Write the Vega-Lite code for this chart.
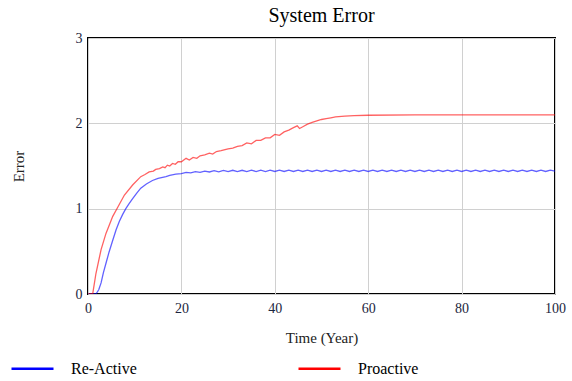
{
  "$schema": "https://vega.github.io/schema/vega-lite/v6.json",
  "width": 467,
  "height": 256,
  "autosize": {"type": "none"},
  "padding": {"left": 88, "top": 38, "right": 17, "bottom": 87},
  "background": "white",
  "config": {
    "font": "Liberation Serif",
    "view": {"stroke": "black", "strokeWidth": 2},
    "axis": {"domain": false, "ticks": false, "gridColor": "#d0d0d0", "gridWidth": 1, "labelFont": "Liberation Serif", "labelFontSize": 14, "labelColor": "#1c2640", "titleFont": "Liberation Serif", "titleFontSize": 15, "titleFontWeight": "normal", "titleColor": "#222222", "labelFlush": false, "labelOverlap": false}
  },
  "title": {"text": "System Error", "font": "Liberation Serif", "fontSize": 20, "fontWeight": "normal", "color": "black", "anchor": "middle", "offset": 5},
  "data": {"values": [
    {"t":0,"v":0,"s":"Re-Active"},{"t":1,"v":0,"s":"Re-Active"},{"t":1.7,"v":0,"s":"Re-Active"},{"t":2.3,"v":0.05,"s":"Re-Active"},{"t":2.8,"v":0.13,"s":"Re-Active"},{"t":3.3,"v":0.25,"s":"Re-Active"},{"t":3.85,"v":0.36,"s":"Re-Active"},{"t":4.5,"v":0.49,"s":"Re-Active"},{"t":5.3,"v":0.63,"s":"Re-Active"},{"t":6,"v":0.75,"s":"Re-Active"},{"t":6.7,"v":0.85,"s":"Re-Active"},{"t":7.4,"v":0.93,"s":"Re-Active"},{"t":8.1,"v":1.0,"s":"Re-Active"},{"t":8.8,"v":1.06,"s":"Re-Active"},{"t":9.6,"v":1.12,"s":"Re-Active"},{"t":10.4,"v":1.18,"s":"Re-Active"},{"t":11.3,"v":1.24,"s":"Re-Active"},{"t":12.5,"v":1.29,"s":"Re-Active"},{"t":13.8,"v":1.33,"s":"Re-Active"},{"t":15,"v":1.355,"s":"Re-Active"},{"t":16.7,"v":1.375,"s":"Re-Active"},{"t":17.5,"v":1.39,"s":"Re-Active"},{"t":18.8,"v":1.405,"s":"Re-Active"},{"t":20,"v":1.41,"s":"Re-Active"},{"t":21,"v":1.425,"s":"Re-Active"},
    {"t":22,"v":1.42,"s":"Re-Active"},{"t":23,"v":1.435,"s":"Re-Active"},{"t":24,"v":1.425,"s":"Re-Active"},{"t":25,"v":1.44,"s":"Re-Active"},{"t":26,"v":1.43,"s":"Re-Active"},{"t":27,"v":1.445,"s":"Re-Active"},{"t":28,"v":1.432,"s":"Re-Active"},{"t":29,"v":1.448,"s":"Re-Active"},{"t":30,"v":1.434,"s":"Re-Active"},{"t":31,"v":1.45,"s":"Re-Active"},{"t":32,"v":1.435,"s":"Re-Active"},{"t":33,"v":1.45,"s":"Re-Active"},{"t":34,"v":1.435,"s":"Re-Active"},{"t":35,"v":1.451,"s":"Re-Active"},{"t":36,"v":1.435,"s":"Re-Active"},{"t":37,"v":1.451,"s":"Re-Active"},{"t":38,"v":1.435,"s":"Re-Active"},{"t":39,"v":1.451,"s":"Re-Active"},{"t":40,"v":1.436,"s":"Re-Active"},{"t":41,"v":1.452,"s":"Re-Active"},{"t":42,"v":1.436,"s":"Re-Active"},{"t":43,"v":1.452,"s":"Re-Active"},{"t":44,"v":1.436,"s":"Re-Active"},{"t":45,"v":1.452,"s":"Re-Active"},{"t":46,"v":1.436,"s":"Re-Active"},{"t":47,"v":1.452,"s":"Re-Active"},{"t":48,"v":1.436,"s":"Re-Active"},{"t":49,"v":1.452,"s":"Re-Active"},{"t":50,"v":1.436,"s":"Re-Active"},{"t":51,"v":1.452,"s":"Re-Active"},{"t":52,"v":1.436,"s":"Re-Active"},{"t":53,"v":1.452,"s":"Re-Active"},{"t":54,"v":1.436,"s":"Re-Active"},{"t":55,"v":1.452,"s":"Re-Active"},{"t":56,"v":1.436,"s":"Re-Active"},{"t":57,"v":1.452,"s":"Re-Active"},{"t":58,"v":1.436,"s":"Re-Active"},{"t":59,"v":1.452,"s":"Re-Active"},{"t":60,"v":1.436,"s":"Re-Active"},{"t":61,"v":1.452,"s":"Re-Active"},{"t":62,"v":1.436,"s":"Re-Active"},{"t":63,"v":1.452,"s":"Re-Active"},{"t":64,"v":1.436,"s":"Re-Active"},{"t":65,"v":1.452,"s":"Re-Active"},{"t":66,"v":1.436,"s":"Re-Active"},{"t":67,"v":1.452,"s":"Re-Active"},{"t":68,"v":1.436,"s":"Re-Active"},{"t":69,"v":1.452,"s":"Re-Active"},{"t":70,"v":1.436,"s":"Re-Active"},{"t":71,"v":1.452,"s":"Re-Active"},{"t":72,"v":1.436,"s":"Re-Active"},{"t":73,"v":1.452,"s":"Re-Active"},{"t":74,"v":1.436,"s":"Re-Active"},{"t":75,"v":1.452,"s":"Re-Active"},{"t":76,"v":1.436,"s":"Re-Active"},{"t":77,"v":1.452,"s":"Re-Active"},{"t":78,"v":1.436,"s":"Re-Active"},{"t":79,"v":1.452,"s":"Re-Active"},{"t":80,"v":1.436,"s":"Re-Active"},{"t":81,"v":1.452,"s":"Re-Active"},{"t":82,"v":1.436,"s":"Re-Active"},{"t":83,"v":1.452,"s":"Re-Active"},{"t":84,"v":1.436,"s":"Re-Active"},{"t":85,"v":1.452,"s":"Re-Active"},{"t":86,"v":1.436,"s":"Re-Active"},{"t":87,"v":1.452,"s":"Re-Active"},{"t":88,"v":1.436,"s":"Re-Active"},{"t":89,"v":1.452,"s":"Re-Active"},{"t":90,"v":1.436,"s":"Re-Active"},{"t":91,"v":1.452,"s":"Re-Active"},{"t":92,"v":1.436,"s":"Re-Active"},{"t":93,"v":1.452,"s":"Re-Active"},{"t":94,"v":1.436,"s":"Re-Active"},{"t":95,"v":1.452,"s":"Re-Active"},{"t":96,"v":1.436,"s":"Re-Active"},{"t":97,"v":1.452,"s":"Re-Active"},{"t":98,"v":1.436,"s":"Re-Active"},{"t":99,"v":1.452,"s":"Re-Active"},{"t":100,"v":1.44,"s":"Re-Active"},
    {"t":0,"v":0,"s":"Proactive"},{"t":1,"v":0,"s":"Proactive"},{"t":1.7,"v":0.24,"s":"Proactive"},{"t":2.8,"v":0.52,"s":"Proactive"},{"t":3.85,"v":0.71,"s":"Proactive"},{"t":5.3,"v":0.91,"s":"Proactive"},{"t":6.4,"v":1.02,"s":"Proactive"},{"t":7.8,"v":1.16,"s":"Proactive"},{"t":9.6,"v":1.28,"s":"Proactive"},{"t":11.3,"v":1.375,"s":"Proactive"},{"t":12.2,"v":1.4,"s":"Proactive"},{"t":13.1,"v":1.43,"s":"Proactive"},{"t":14,"v":1.44,"s":"Proactive"},{"t":14.5,"v":1.46,"s":"Proactive"},{"t":15.3,"v":1.47,"s":"Proactive"},{"t":16,"v":1.49,"s":"Proactive"},{"t":16.5,"v":1.48,"s":"Proactive"},{"t":17,"v":1.51,"s":"Proactive"},{"t":17.5,"v":1.5,"s":"Proactive"},{"t":18.1,"v":1.53,"s":"Proactive"},{"t":18.7,"v":1.52,"s":"Proactive"},{"t":19.3,"v":1.55,"s":"Proactive"},{"t":20,"v":1.55,"s":"Proactive"},{"t":21,"v":1.59,"s":"Proactive"},{"t":21.7,"v":1.57,"s":"Proactive"},{"t":22.5,"v":1.6,"s":"Proactive"},{"t":23.3,"v":1.59,"s":"Proactive"},{"t":24,"v":1.62,"s":"Proactive"},{"t":25,"v":1.63,"s":"Proactive"},{"t":26,"v":1.65,"s":"Proactive"},{"t":26.7,"v":1.64,"s":"Proactive"},{"t":27.5,"v":1.67,"s":"Proactive"},{"t":28.5,"v":1.68,"s":"Proactive"},{"t":30,"v":1.7,"s":"Proactive"},{"t":31,"v":1.71,"s":"Proactive"},{"t":32,"v":1.73,"s":"Proactive"},{"t":33,"v":1.74,"s":"Proactive"},{"t":34,"v":1.77,"s":"Proactive"},{"t":35,"v":1.76,"s":"Proactive"},{"t":36,"v":1.8,"s":"Proactive"},{"t":37,"v":1.8,"s":"Proactive"},{"t":38,"v":1.83,"s":"Proactive"},{"t":39,"v":1.83,"s":"Proactive"},{"t":40,"v":1.87,"s":"Proactive"},{"t":41,"v":1.86,"s":"Proactive"},{"t":42,"v":1.9,"s":"Proactive"},{"t":43,"v":1.92,"s":"Proactive"},{"t":44,"v":1.95,"s":"Proactive"},{"t":44.8,"v":1.97,"s":"Proactive"},{"t":45.3,"v":1.94,"s":"Proactive"},{"t":46,"v":1.96,"s":"Proactive"},{"t":47,"v":1.99,"s":"Proactive"},{"t":48,"v":2.01,"s":"Proactive"},{"t":49,"v":2.03,"s":"Proactive"},{"t":50,"v":2.045,"s":"Proactive"},{"t":51,"v":2.055,"s":"Proactive"},{"t":52,"v":2.065,"s":"Proactive"},{"t":53,"v":2.075,"s":"Proactive"},{"t":55,"v":2.085,"s":"Proactive"},{"t":57,"v":2.09,"s":"Proactive"},{"t":60,"v":2.095,"s":"Proactive"},{"t":70,"v":2.1,"s":"Proactive"},{"t":80,"v":2.1,"s":"Proactive"},{"t":90,"v":2.1,"s":"Proactive"},{"t":100,"v":2.1,"s":"Proactive"}
  ]},
  "mark": {"type": "line", "strokeWidth": 1.3, "opacity": 0.62, "clip": true},
  "encoding": {
    "x": {"field": "t", "type": "quantitative", "scale": {"domain": [0, 100], "nice": false}, "axis": {"values": [0, 20, 40, 60, 80, 100], "title": "Time (Year)", "labelFont": "Liberation Serif", "labelFontSize": 14, "labelPadding": 7, "titlePadding": 15}},
    "y": {"field": "v", "type": "quantitative", "scale": {"domain": [0, 3], "nice": false}, "axis": {"values": [0, 1, 2, 3], "title": "Error", "labelFont": "Liberation Serif", "labelFontSize": 14, "labelPadding": 6, "titlePadding": 49}},
    "color": {"field": "s", "type": "nominal", "scale": {"domain": ["Re-Active", "Proactive"], "range": ["#0000ff", "#ff0000"]},
      "legend": {"title": null, "orient": "none", "legendX": -78, "legendY": 308, "direction": "horizontal", "symbolType": "stroke", "symbolSize": 1764, "symbolStrokeWidth": 2.5, "symbolOpacity": 1, "labelOffset": 16, "columnPadding": 156, "labelFont": "Liberation Serif", "labelFontSize": 16, "labelColor": "black"}},
    "order": {"field": "t", "type": "quantitative"}
  }
}
